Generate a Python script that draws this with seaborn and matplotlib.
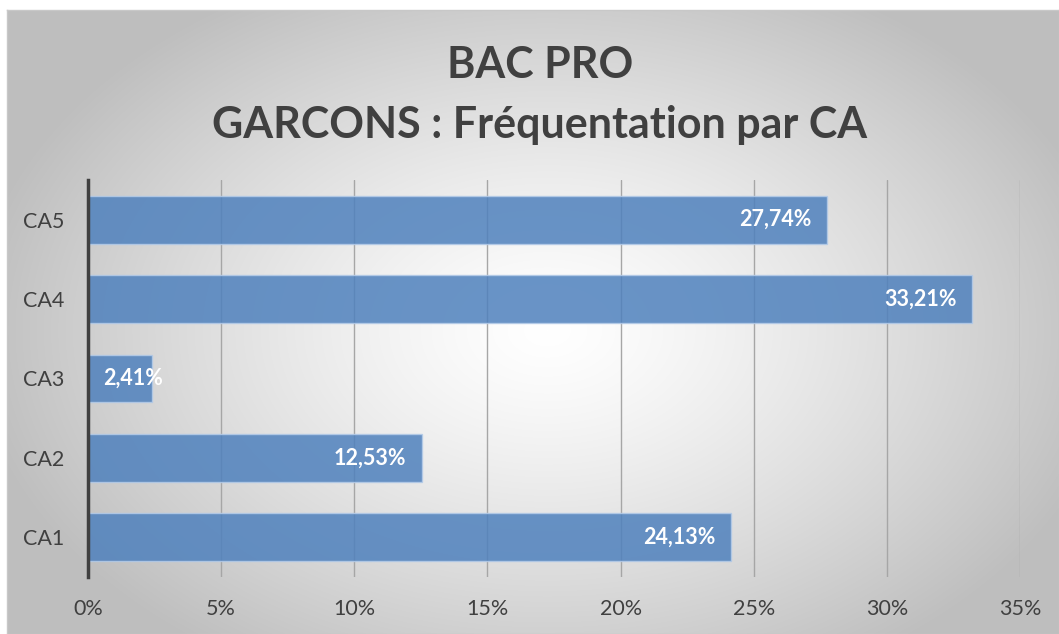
import numpy as np
import pandas as pd
import matplotlib
matplotlib.use("Agg")
import matplotlib.pyplot as plt
import seaborn as sns

categories = ["CA1", "CA2", "CA3", "CA4", "CA5"]
values = [24.13, 12.53, 2.41, 33.21, 27.74]
x_ticks = [0, 5, 10, 15, 20, 25, 30, 35]
title = "BAC PRO\nGARCONS : Fréquentation par CA"

df = pd.DataFrame({"ca": categories, "pct": values})
order = categories[::-1]

sns.set_theme(style="white")
plt.rcParams["font.family"] = ["Lato", "DejaVu Sans"]

W, H = 1059, 634
fig = plt.figure(figsize=(W / 100, H / 100), dpi=100)
fig.patch.set_facecolor("white")

# radial gradient background
bg = fig.add_axes([7 / W, 0, 1 - 7 / W, 1 - 10 / H], zorder=-5)
yy, xx = np.mgrid[0:624, 0:1052]
d = np.sqrt(((xx - 540) / 560.0) ** 2 + ((yy - 320) / 380.0) ** 2)
shade = np.clip(255 - 62 * np.clip(d, 0, 1.3) ** 1.3, 190, 255) / 255.0
bg.imshow(np.dstack([shade] * 3), aspect="auto", extent=[0, 1, 0, 1])
bg.set_xlim(0, 1)
bg.set_ylim(0, 1)
bg.set_xticks([])
bg.set_yticks([])
for s in bg.spines.values():
    s.set_color("#c8c8c8")
    s.set_linewidth(1)

ax = fig.add_axes([88 / W, 1 - 577 / H, (1020 - 88) / W, (577 - 180) / H])
ax.patch.set_alpha(0)

sns.barplot(data=df, x="pct", y="ca", order=order, orient="h", width=0.6,
            color="#4F81BD", alpha=0.85, edgecolor="#b4cbe8", linewidth=1,
            saturation=1, ax=ax, zorder=2)

ax.set_xlim(0, 35)
ax.set_ylim(4.5, -0.5)
ax.set_xticks(x_ticks)
ax.set_xticklabels([f"{t}%" for t in x_ticks])
ax.xaxis.grid(True, color="#a6a6a6", linewidth=1)
ax.set_axisbelow(True)
ax.tick_params(axis="both", length=0, labelsize=15.5, colors="#404040")
ax.tick_params(axis="x", pad=16)
ax.tick_params(axis="y", pad=17)
ax.set_xlabel("")
ax.set_ylabel("")
for side in ["top", "right", "bottom"]:
    ax.spines[side].set_visible(False)
ax.spines["left"].set_color("#404040")
ax.spines["left"].set_linewidth(2.5)
ax.spines["left"].set_zorder(5)

for i, cat in enumerate(order):
    v = values[categories.index(cat)]
    lab = f"{v:.2f}".replace(".", ",") + "%"
    if v < 5:
        ax.annotate(lab, (0, i), xytext=(11, 0), textcoords="offset points",
                    ha="left", va="center", color="white", fontsize=15.5,
                    fontweight="bold", zorder=6)
    else:
        ax.annotate(lab, (v, i), xytext=(-11, 0), textcoords="offset points",
                    ha="right", va="center", color="white", fontsize=15.5,
                    fontweight="bold", zorder=6)

fig.text(540 / W, 1 - 95 / H, title, ha="center", va="center", fontsize=31,
         fontweight="bold", color="#404040", linespacing=1.6)

fig.savefig("out.png", dpi=100)
